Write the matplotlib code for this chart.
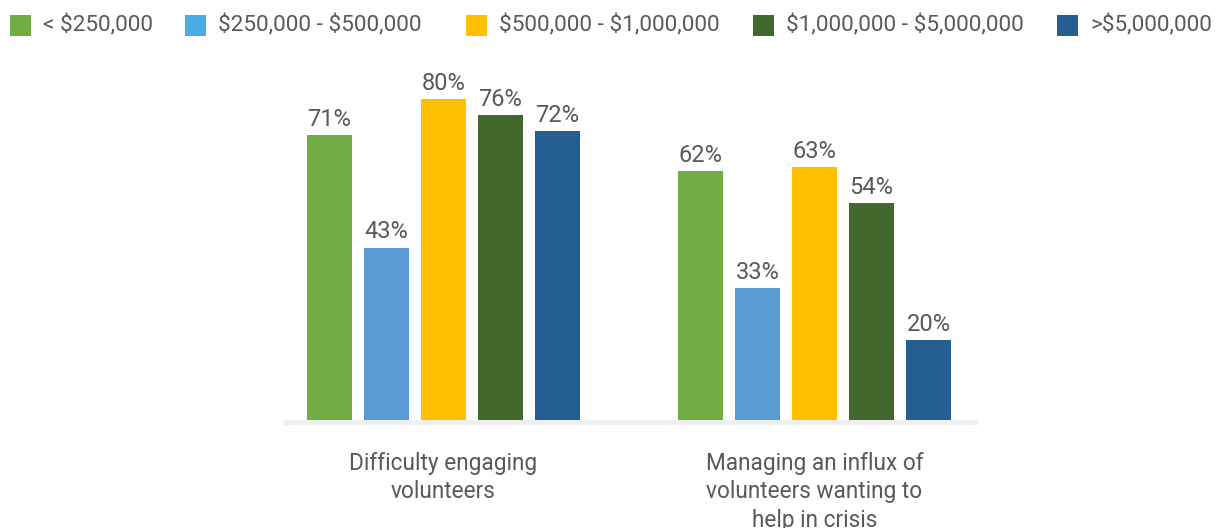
import numpy as np
import matplotlib.pyplot as plt
from matplotlib.patches import Rectangle

plt.rcParams['font.family'] = ['Roboto', 'DejaVu Sans']
plt.rcParams['text.parse_math'] = False

categories = ['Difficulty engaging\nvolunteers', 'Managing an influx of\nvolunteers wanting to\nhelp in crisis']
series = ['< $250,000', '$250,000 - $500,000', '$500,000 - $1,000,000',
          '$1,000,000 - $5,000,000', '>$5,000,000']
values = [
    [71, 62],
    [43, 33],
    [80, 63],
    [76, 54],
    [72, 20],
]
bar_colors = ['#70AD47', '#5B9BD5', '#FFC000', '#43682B', '#255E91']
legend_colors = ['#70AD47', '#4BACE3', '#FFC000', '#43682B', '#255E91']
TXT = '#595959'

W, H = 1218, 528
fig = plt.figure(figsize=(W / 100, H / 100), dpi=100)
ax = fig.add_axes([283 / W, 108 / H, 695 / W, 401 / H])

x = np.arange(len(categories))
step, width = 0.1536, 0.1213
for i, (name, vals, c) in enumerate(zip(series, values, bar_colors)):
    pos = x + (i - 2) * step
    bars = ax.bar(pos, vals, width, color=c, zorder=2)
    for b, v in zip(bars, vals):
        ax.annotate(f'{v}%', (b.get_x() + b.get_width() / 2, v), xytext=(0, 3),
                    textcoords='offset points', ha='center', va='bottom',
                    fontsize=17, color=TXT)

ax.set_xlim(-0.4326, 1.4407)
ax.set_ylim(0, 100)
for s in ax.spines.values():
    s.set_visible(False)
# light baseline sitting just under the bars
ax.axhline(-0.6, color='#EEEFF1', linewidth=3.6, zorder=1, clip_on=False,
           solid_capstyle='butt')
ax.set_yticks([])
ax.set_xticks(x)
ax.set_xticklabels(categories, fontsize=16.3, color=TXT, linespacing=1.3)
ax.tick_params(axis='x', length=0, pad=23)

# legend row across the top (pixel layout)
leg_x = [10, 185, 466, 753, 1057]
sw = 21
for lx, name, c in zip(leg_x, series, legend_colors):
    fig.patches.append(Rectangle((lx / W, (H - 36) / H), sw / W, sw / H,
                                 transform=fig.transFigure, facecolor=c,
                                 edgecolor='none'))
    fig.text((lx + sw + 12) / W, (H - 25.5) / H, name, fontsize=16.2,
             color=TXT, ha='left', va='center')

fig.savefig('out.png', dpi=100)
